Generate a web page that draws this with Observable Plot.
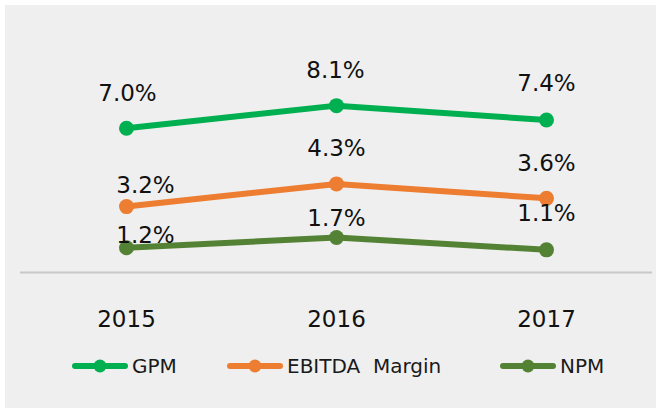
<!DOCTYPE html>
<html>
<head>
<meta charset="utf-8">
<script src="https://cdn.jsdelivr.net/npm/d3@7"></script>
<script src="https://cdn.jsdelivr.net/npm/@observablehq/plot@0.6"></script>
<style>
  body { margin: 0; background: #ffffff; font-family: "DejaVu Sans", sans-serif; }
  #panel { position: absolute; left: 5px; top: 5px; width: 651px; height: 403px; background: #efefef; overflow: hidden; }
  #chart svg { display: block; }
  .leg { position: absolute; top: 351px; height: 20px; display: flex; align-items: center; white-space: pre; font-size: 20px; color: #1a1a1a; }
  .leg svg { display: block; margin-right: 4px; }
</style>
</head>
<body>
<div id="panel">
  <div id="chart"></div>
  <div id="legend"></div>
</div>
<script>
// ---- data ----
const years = ["2015", "2016", "2017"];
const gpm = [7.0, 8.1, 7.4];
const ebitdaMargin = [3.2, 4.3, 3.6];
const npm = [1.2, 1.7, 1.1];
const seriesNames = ["GPM", "EBITDA  Margin", "NPM"];

// ---- styling ----
const colors = ["#00b050", "#ed7d31", "#548235"];
// label offsets (dx, dy) relative to each point, per series, per year
const labelOffsets = [
  [[1, -35], [-1, -35], [0, -36]],
  [[19, -21], [0, -35], [0, -35]],
  [[19, -12], [0, -19], [0, -36]]
];

const seriesValues = [gpm, ebitdaMargin, npm];
const rows = seriesValues.map((vals, s) =>
  years.map((year, i) => ({series: seriesNames[s], year, value: vals[i], s, i}))
);

const marks = [Plot.ruleY([0], {stroke: "#c8c8c8", strokeWidth: 2})];
rows.forEach((data, s) => {
  marks.push(Plot.line(data, {x: "year", y: "value", stroke: colors[s], strokeWidth: 6, strokeLinecap: "round", strokeLinejoin: "round"}));
  marks.push(Plot.dot(data, {x: "year", y: "value", r: 7.5, fill: colors[s], stroke: "none"}));
});
rows.forEach((data, s) => {
  data.forEach((d, i) => {
    const [dx, dy] = labelOffsets[s][i];
    marks.push(Plot.text([d], {x: "year", y: "value", text: (r) => r.value.toFixed(1) + "%", dx, dy, fontSize: 23, fill: "#111"}));
  });
});

const chart = Plot.plot({
  width: 651,
  height: 340,
  marginLeft: 15,
  marginRight: 4,
  marginTop: 61,
  marginBottom: 73,
  style: {background: "transparent", fontFamily: "DejaVu Sans", fontSize: "23px", color: "#111", overflow: "visible"},
  x: {type: "point", domain: years, padding: 0.5, tickSize: 0, tickPadding: 38, label: null},
  y: {domain: [0, 10], axis: null},
  marks
});
document.getElementById("chart").appendChild(chart);

// ---- legend ----
const legendLeft = [67, 222, 495];
const legend = document.getElementById("legend");
seriesNames.forEach((name, s) => {
  const item = document.createElement("div");
  item.className = "leg";
  item.style.left = legendLeft[s] + "px";
  item.innerHTML = `<svg width="56" height="16"><line x1="3" y1="8" x2="53" y2="8" stroke="${colors[s]}" stroke-width="6" stroke-linecap="round"/><circle cx="28" cy="8" r="6.5" fill="${colors[s]}"/></svg><span>${name}</span>`;
  legend.appendChild(item);
});
</script>
</body>
</html>
